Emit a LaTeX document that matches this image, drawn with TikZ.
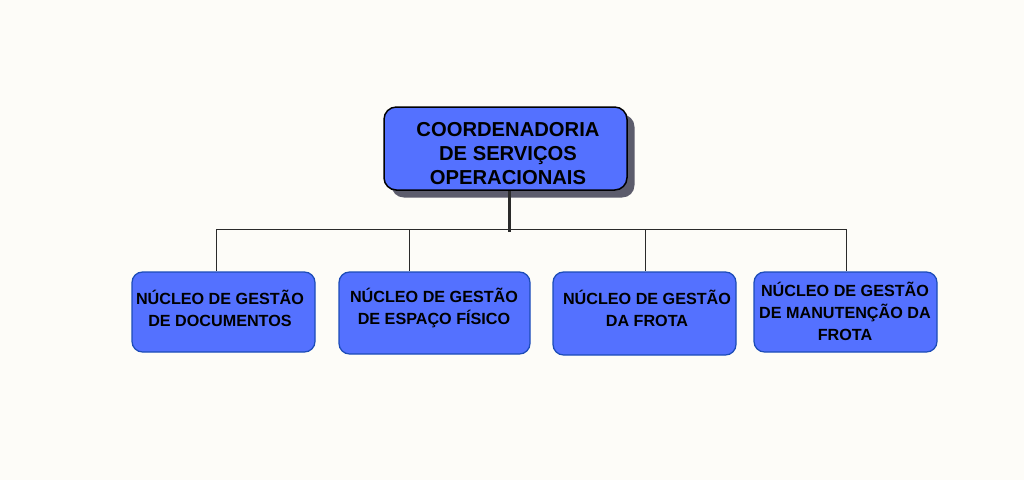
\documentclass[tikz,border=0pt]{standalone}
\usepackage{fontspec}
\setmainfont{Liberation Sans}
\usetikzlibrary{shadows}
\definecolor{bgcol}{HTML}{FDFCF8}
\definecolor{boxblue}{HTML}{5471FF}
\definecolor{boxedge}{HTML}{1C4CB8}
\definecolor{shadowcol}{HTML}{5C5C6C}
\definecolor{linecol}{HTML}{2A2A2A}
\begin{document}
\begin{tikzpicture}[topbox/.style={rectangle, rounded corners=7pt, draw=black, fill=boxblue, line width=0.3mm,
    minimum width=4.86cm, minimum height=1.66cm, drop shadow={shadow xshift=0.15cm, shadow yshift=-0.15cm, fill=shadowcol, opacity=1}},
  subbox/.style={rectangle, rounded corners=6pt, draw=boxedge, fill=boxblue, line width=0.25mm, minimum width=3.66cm},
  toptext/.style={align=center, font=\bfseries\fontsize{11.5}{13.4}\selectfont, inner sep=0pt},
  subtext/.style={align=center, font=\bfseries\fontsize{9.2}{12.5}\selectfont, inner sep=0pt}]
  \fill[bgcol] (0,0) rectangle (20.48,-9.6);
  \useasboundingbox (0,0) rectangle (20.48,-9.6);

  \node[topbox] (top) at (10.11,-2.97) {};
  \node[toptext] (ttop) at (10.16,-3.07) {COORDENADORIA\\DE SERVIÇOS\\OPERACIONAIS};

  \node[subbox, minimum height=1.6cm] (b1) at (4.47,-6.24) {};
  \node[subbox, minimum width=3.82cm, minimum height=1.64cm] (b2) at (8.69,-6.26) {};
  \node[subbox, minimum height=1.66cm] (b3) at (12.89,-6.27) {};
  \node[subbox, minimum height=1.6cm] (b4) at (16.91,-6.24) {};

  \node[subtext] (t1) at (4.40,-6.16) {NÚCLEO DE GESTÃO\\DE DOCUMENTOS};
  \node[subtext] (t2) at (8.68,-6.16) {NÚCLEO DE GESTÃO\\DE ESPAÇO FÍSICO};
  \node[subtext] (t3) at (12.94,-6.16) {NÚCLEO DE GESTÃO\\DA FROTA};
  \node[subtext] (t4) at (16.90,-6.23) {NÚCLEO DE GESTÃO\\DE MANUTENÇÃO DA\\FROTA};

  \coordinate (j0) at (10.18,-4.64);
  \coordinate (j1) at (4.32,-4.58);
  \coordinate (j2) at (8.18,-4.58);
  \coordinate (j3) at (12.90,-4.58);
  \coordinate (j4) at (16.92,-4.58);

  \draw [line width=0.6mm, linecol](j0 |- top.south) -- (j0);
  \draw [line width=0.2mm, linecol](j1) -- (j4);
  \draw [line width=0.2mm, linecol](j1) -- (j1 |- b1.north);
  \draw [line width=0.2mm, linecol](j2) -- (j2 |- b2.north);
  \draw [line width=0.2mm, linecol](j3) -- (j3 |- b3.north);
  \draw [line width=0.2mm, linecol](j4) -- (j4 |- b4.north);
\end{tikzpicture}
\end{document}
